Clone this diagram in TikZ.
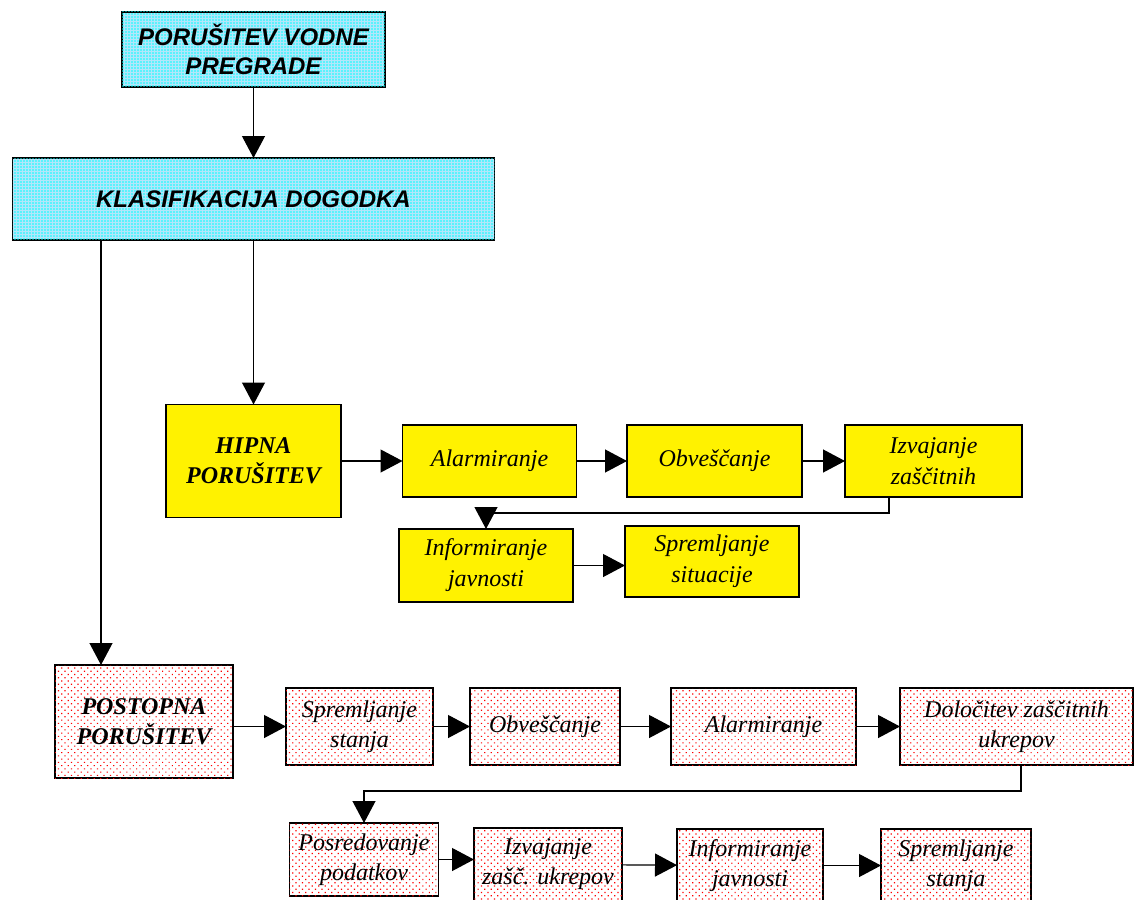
\documentclass[tikz,border=0pt]{standalone}
\usepackage{fontspec}
\setmainfont{Liberation Serif}
\newfontfamily\arialfont{Liberation Sans}
\usetikzlibrary{arrows.meta,patterns.meta}

\begin{document}
\begin{tikzpicture}[x=1pt,y=-1pt,
    box/.style={draw, line width=1.5pt, inner sep=0pt, outer sep=0pt, align=center},
    cyanbox/.style={box, fill=cyan!30, postaction={pattern={Dots[distance=3pt,radius=0.9pt]}, pattern color=cyan},
        font=\arialfont\bfseries\itshape\fontsize{24}{29}\selectfont},
    yelbox/.style={box, fill=yellow, font=\itshape\fontsize{24}{31}\selectfont},
    redbox/.style={box, fill=white, postaction={pattern={Dots[distance=4.6pt,angle=45,radius=0.85pt]}, pattern color=red},
        font=\itshape\fontsize{24}{30}\selectfont},
    mainbox/.style={font=\bfseries\itshape\fontsize{24}{30}\selectfont},
    arr/.style={line width=1.2pt, -{Triangle[length=22pt,width=23pt]}}]
    \useasboundingbox (0,0) rectangle (1134,899);
                        % top
                        \node[cyanbox, minimum width=263, minimum height=75] (vodne) at (253.5,49.5) {PORUŠITEV VODNE\\PREGRADE};
                        \node[cyanbox, minimum width=482, minimum height=82] (klas) at (253.5,199) {KLASIFIKACIJA DOGODKA};
                        % hipna
                        \node[yelbox, mainbox, minimum width=175, minimum height=113] (hipna) at (253.5,461) {HIPNA\\PORUŠITEV};
                        \node[yelbox, minimum width=174, minimum height=72] (alarm1) at (489.5,461) {Alarmiranje};
                        \node[yelbox, minimum width=175, minimum height=72] (obv1) at (714.5,461) {Obveščanje};
                        \node[yelbox, minimum width=177, minimum height=72] (izv1) at (933.5,461) {Izvajanje\\zaščitnih};
                        \node[yelbox, minimum width=174, minimum height=73] (inf1) at (486,565.5) {Informiranje\\javnosti};
                        \node[yelbox, minimum width=174, minimum height=71] (spr1) at (712,561.5) {Spremljanje\\situacije};
                        % postopna
                        \node[redbox, mainbox, minimum width=178, minimum height=113] (postopna) at (144,721.5) {POSTOPNA\\PORUŠITEV};
                        \node[redbox, minimum width=147, minimum height=77] (spr2) at (359.5,726.5) {Spremljanje\\stanja};
                        \node[redbox, minimum width=150, minimum height=77] (obv2) at (545,726.5) {Obveščanje};
                        \node[redbox, minimum width=185, minimum height=77] (alarm2) at (763.5,726.5) {Alarmiranje};
                        \node[redbox, minimum width=233, minimum height=77] (dol) at (1016.5,726.5) {Določitev zaščitnih\\ukrepov};
                        \node[redbox, minimum width=149, minimum height=73] (pos) at (364,859.5) {Posredovanje\\podatkov};
                        \node[redbox, minimum width=148, minimum height=73] (izv2) at (548,864.5) {Izvajanje\\zašč. ukrepov};
                        \node[redbox, minimum width=146, minimum height=73] (inf2) at (750,865.5) {Informiranje\\javnosti};
                        \node[redbox, minimum width=150, minimum height=73] (spr3) at (956,865.5) {Spremljanje\\stanja};
			% connectors
			\draw[arr] (vodne) -- (klas);
			\draw[arr] (klas.south -| hipna) -- (hipna);
			\draw[arr] ([xshift=46]postopna.north west |- klas.south) -- ([xshift=46]postopna.north west);
			\draw[arr] (hipna) -- (alarm1);
			\draw[arr] (alarm1) -- (obv1);
			\draw[arr] (obv1) -- (izv1);
			\draw[arr] ([xshift=-44.5]izv1.south) -- ++(0,16) -| (inf1.north);
			\draw[arr] (inf1) -- (inf1 -| spr1.west);
			\draw[arr] (postopna.east |- spr2) -- (spr2);
			\draw[arr] (spr2) -- (obv2);
			\draw[arr] (obv2) -- (alarm2);
			\draw[arr] (alarm2) -- (dol);
			\draw[arr] ([xshift=4.5]dol.south) -- ++(0,26) -| (pos.north);
			\draw[arr] (pos) -- (pos -| izv2.west);
			\draw[arr] (izv2) -- (inf2);
			\draw[arr] (inf2) -- (spr3);
\end{tikzpicture}
\end{document}
